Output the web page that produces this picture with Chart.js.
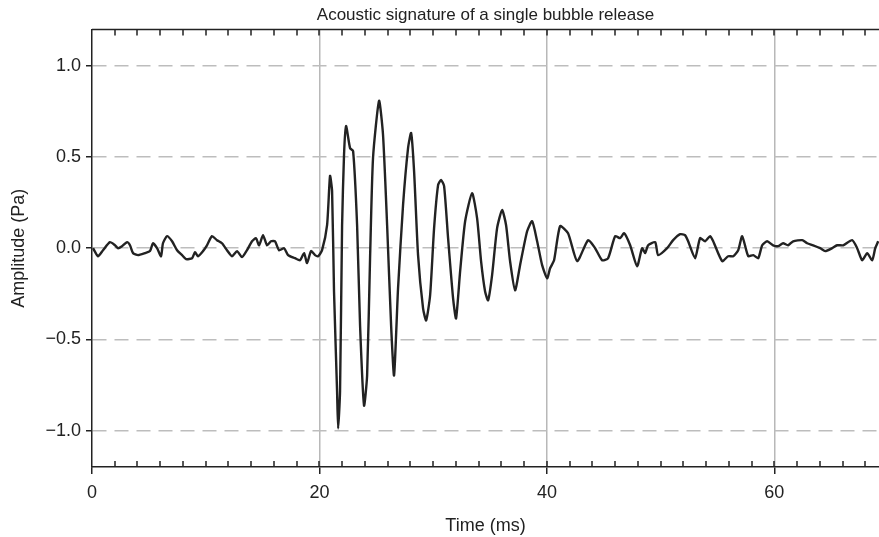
<!DOCTYPE html>
<html>
<head>
<meta charset="utf-8">
<title>Acoustic signature of a single bubble release</title>
<script src="https://cdn.jsdelivr.net/npm/chart.js@4.4.0/dist/chart.umd.min.js"></script>
<style>
    html, body { margin: 0; padding: 0; background: #fff; }
    #wrap { width: 879px; height: 537px; }
</style>
</head>
<body>
<div id="wrap"><canvas id="bubbleChart" width="879" height="537"></canvas></div>
<script>
// values
const timeMs = [
    0.09, 0.53, 0.97, 1.58, 2.02, 2.29, 2.64, 3.08, 3.34, 3.61, 4.05, 4.66, 5.10, 5.36, 5.72,
    6.07, 6.24, 6.60, 7.04, 7.48, 7.92, 8.27, 8.80, 9.06, 9.32, 9.76, 10.11, 10.55, 10.99,
    11.43, 11.87, 12.31, 12.75, 13.19, 13.63, 14.07, 14.42, 14.69, 15.04, 15.39, 15.74,
    16.09, 16.45, 16.89, 17.24, 17.85, 18.29, 18.65, 18.91, 19.26, 19.61, 19.88, 20.23,
    20.67, 20.93, 21.11, 21.28, 21.55, 21.64, 21.81, 21.99, 22.16, 22.34, 22.69, 22.96,
    23.31, 23.57, 23.92, 24.19, 24.45, 24.71, 25.24, 25.59, 25.95, 26.30, 26.56, 26.91,
    27.35, 27.79, 28.06, 28.32, 28.67, 29.11, 29.38, 29.73, 30.08, 30.43, 30.69, 30.96,
    31.31, 31.75, 32.01, 32.37, 32.81, 33.42, 33.86, 34.21, 34.56, 34.83, 35.18, 35.62,
    36.06, 36.41, 36.76, 37.20, 37.64, 38.26, 38.70, 39.14, 39.58, 40.02, 40.28, 40.63,
    41.16, 41.86, 42.66, 43.62, 44.24, 44.85, 45.38, 46.00, 46.44, 46.79, 47.32, 47.93,
    48.37, 48.64, 48.90, 49.52, 49.78, 50.57, 51.10, 51.72, 52.15, 52.42, 53.03, 53.47,
    53.91, 54.35, 54.62, 55.41, 55.94, 56.38, 56.82, 57.17, 57.70, 58.14, 58.58, 58.93,
    59.37, 59.89, 60.33, 60.77, 61.21, 61.65, 62.45, 62.89, 63.41, 64.03, 64.47, 65.08,
    65.52, 66.05, 66.84, 67.28, 67.72, 68.16, 68.60, 68.87, 69.13
];
const amplitudePa = [
    0.000, -0.044, -0.011, 0.033, 0.016, 0.000, 0.011, 0.033, 0.016, -0.027, -0.038, -0.027, -0.016, 0.027, 0.000,
    -0.044, 0.027, 0.066, 0.038, -0.011, -0.038, -0.060, -0.055, -0.022, -0.044, -0.016, 0.016, 0.066, 0.044,
    0.027, -0.011, -0.044, -0.016, -0.049, -0.011, 0.038, 0.055, 0.016, 0.071, 0.016, 0.038,
    0.038, -0.011, 0.000, -0.038, -0.055, -0.066, -0.027, -0.082, -0.016, -0.038, -0.044, -0.011,
    0.126, 0.396, 0.313, -0.236, -0.786, -0.989, -0.786, 0.126, 0.511, 0.670, 0.549, 0.533,
    0.126, -0.423, -0.863, -0.698, -0.055, 0.495, 0.808, 0.621, 0.126, -0.423, -0.698, -0.220,
    0.236, 0.549, 0.632, 0.423, -0.038, -0.330, -0.396, -0.258, 0.110, 0.346, 0.374, 0.341,
    0.055, -0.275, -0.385, -0.126, 0.148, 0.302, 0.165, -0.071, -0.236, -0.286, -0.148, 0.110,
    0.209, 0.126, -0.071, -0.231, -0.093, 0.093, 0.148, 0.038, -0.093, -0.165, -0.110, -0.066,
    0.121, 0.082, -0.071, 0.044, 0.000, -0.066, -0.055, 0.066, 0.055, 0.082, 0.016, -0.099,
    0.000, -0.027, 0.016, 0.033, -0.038, 0.000, 0.044, 0.077, 0.071, 0.038, -0.055, 0.055,
    0.038, 0.066, 0.038, -0.071, -0.044, -0.044, -0.011, 0.066, -0.044, -0.038, -0.055, 0.016,
    0.038, 0.016, 0.011, 0.027, 0.016, 0.038, 0.044, 0.027, 0.016, 0.000, -0.016, 0.000,
    0.016, 0.016, 0.044, 0.000, -0.066, -0.027, -0.066, 0.000, 0.038
];
const xTickValues = [0, 20, 40, 60];
const yTickValues = [-1.0, -0.5, 0.0, 0.5, 1.0];
const minorStep = 2;

const FONT = "'Liberation Sans', Arial, Helvetica, sans-serif";
const INK = '#222';

// top frame line and small inward ticks every 2 ms
const frameTicks = {
    id: 'frameTicks',
    afterDraw(chart) {
        const { ctx, chartArea: a, scales: { x } } = chart;
        ctx.save();
        ctx.strokeStyle = INK;
        ctx.lineWidth = 1.5;
        ctx.beginPath();
        ctx.moveTo(a.left, a.top);
        ctx.lineTo(a.right, a.top);
        for (let v = minorStep; v < x.max; v += minorStep) {
            const px = Math.round(x.getPixelForValue(v));
            ctx.moveTo(px, a.bottom);
            ctx.lineTo(px, a.bottom - 6);
            ctx.moveTo(px, a.top);
            ctx.lineTo(px, a.top + 6);
        }
        ctx.stroke();
        ctx.restore();
    }
};

const ctx = document.getElementById('bubbleChart').getContext('2d');
const bubbleChart = new Chart(ctx, {
    type: 'line',
    data: {
        labels: timeMs,
        datasets: [{
            label: 'Amplitude',
            data: timeMs.map((t, i) => ({ x: t, y: amplitudePa[i] })),
            borderColor: INK,
            borderWidth: 2.4,
            pointRadius: 0,
            tension: 0.2,
            fill: false
        }]
    },
    options: {
        responsive: false,
        animation: false,
        layout: { padding: { left: 0, right: 0, top: 0, bottom: 0 } },
        plugins: {
            legend: { display: false },
            tooltip: { enabled: false },
            title: {
                display: true,
                text: 'Acoustic signature of a single bubble release',
                color: INK,
                fullSize: false,
                font: { family: FONT, size: 17, weight: 'normal' },
                padding: { top: 5, bottom: 4 }
            }
        },
        scales: {
            x: {
                type: 'linear',
                min: 0,
                max: 69.2,
                afterBuildTicks(scale) {
                    scale.ticks = xTickValues.map(v => ({ value: v }));
                },
                afterFit(scale) { scale.height = 70; },
                ticks: {
                    color: INK,
                    font: { family: FONT, size: 18 },
                    padding: 8,
                    maxRotation: 0
                },
                grid: {
                    color: c => (c.tick && c.tick.value === 0) ? 'rgba(0,0,0,0)' : '#b8b8b8',
                    lineWidth: 1.5,
                    tickColor: INK,
                    tickLength: 7,
                    tickWidth: 1.5
                },
                border: { color: INK, width: 1.5 },
                title: {
                    display: true,
                    text: 'Time (ms)',
                    color: INK,
                    font: { family: FONT, size: 18 },
                    padding: { top: 2, bottom: 0 }
                }
            },
            y: {
                min: -1.2,
                max: 1.2,
                afterBuildTicks(scale) {
                    scale.ticks = yTickValues.map(v => ({ value: v }));
                },
                afterFit(scale) { scale.width = 92; },
                ticks: {
                    color: INK,
                    font: { family: FONT, size: 18 },
                    padding: 5,
                    callback: v => v.toFixed(1).replace('-', '\u2212')
                },
                grid: {
                    color: '#bdbdbd',
                    lineWidth: 1.5,
                    tickColor: INK,
                    tickLength: 6,
                    tickWidth: 1.5
                },
                border: { color: INK, width: 1.5, dash: [14, 8] },
                title: {
                    display: true,
                    text: 'Amplitude (Pa)',
                    color: INK,
                    font: { family: FONT, size: 18 },
                    padding: { top: 8, bottom: 4 }
                }
            }
        }
    },
    plugins: [frameTicks]
});
</script>
</body>
</html>
